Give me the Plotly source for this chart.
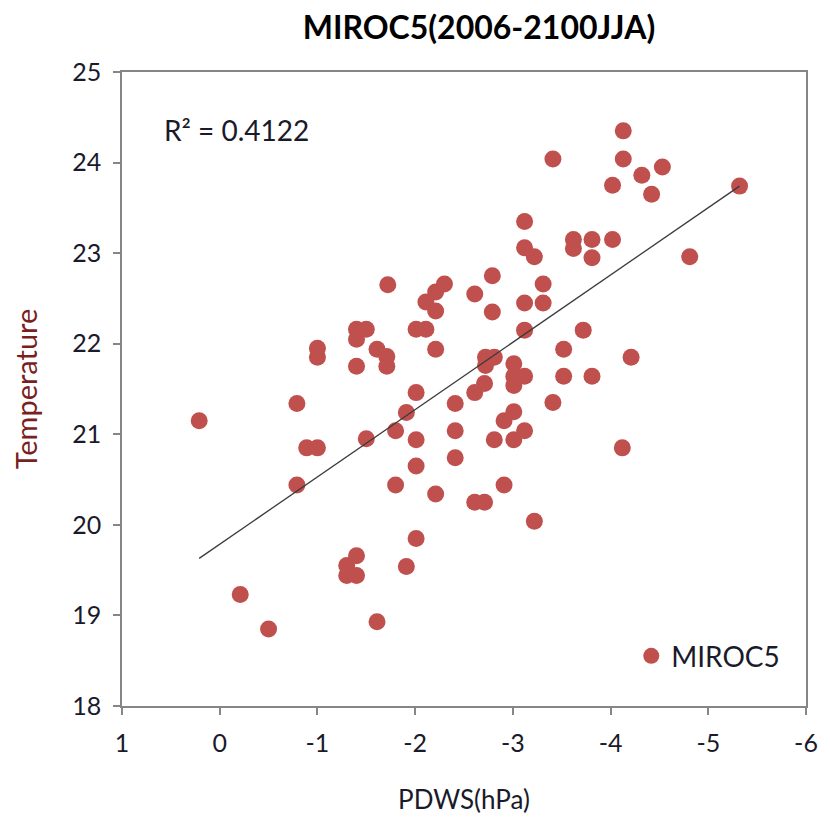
import plotly.graph_objects as go

# PDWS (hPa) values
pdws = [0.21, -0.21, -0.50, -0.79, -0.79, -0.89, -1.00, -1.00, -1.00, -1.30,
        -1.30, -1.40, -1.40, -1.40, -1.40, -1.50, -1.40, -1.50, -1.61, -1.71,
        -1.71, -1.72, -1.61, -1.80, -1.80, -1.91, -1.91, -2.01, -2.01, -2.01,
        -2.01, -2.01, -2.11, -2.11, -2.21, -2.21, -2.30, -2.21, -2.21, -2.41,
        -2.41, -2.41, -2.61, -2.79, -2.79, -2.72, -2.81, -2.72, -2.71, -2.61,
        -2.81, -2.91, -3.01, -3.01, -3.12, -2.91, -2.61, -2.71, -3.22, -3.01,
        -3.01, -3.12, -3.01, -3.12, -3.12, -3.31, -3.31, -3.12, -3.12, -3.22,
        -3.41, -3.52, -3.52, -3.81, -3.72, -3.62, -3.62, -3.81, -3.81, -4.02,
        -4.12, -4.21, -3.41, -4.13, -4.13, -4.32, -4.53, -4.02, -4.42, -5.32,
        -4.81]
# Temperature values
temperature = [21.15, 19.23, 18.85, 21.34, 20.44, 20.85, 20.85, 21.95, 21.85, 19.55,
               19.44, 19.44, 19.66, 21.75, 22.16, 22.16, 22.05, 20.95, 21.94, 21.86,
               21.75, 22.65, 18.93, 21.04, 20.44, 21.24, 19.54, 21.46, 20.94, 20.65,
               19.85, 22.16, 22.16, 22.46, 22.57, 22.36, 22.66, 21.94, 20.34, 21.34,
               21.04, 20.74, 22.55, 22.75, 22.35, 21.85, 21.85, 21.76, 21.56, 21.46,
               20.94, 21.15, 21.25, 20.94, 21.04, 20.44, 20.25, 20.25, 20.04, 21.78,
               21.64, 21.64, 21.54, 22.15, 22.45, 22.45, 22.66, 23.35, 23.06, 22.96,
               21.35, 21.94, 21.64, 21.64, 22.15, 23.15, 23.05, 23.15, 22.95, 23.15,
               20.85, 21.85, 24.04, 24.35, 24.04, 23.86, 23.95, 23.75, 23.65, 23.74,
               22.96]

# linear trend line endpoints (as drawn in the source chart)
trend_x = [0.21, -5.32]
trend_y = [19.63, 23.74]

series_name = "MIROC5"
title_text = "MIROC5(2006-2100JJA)"
r2_text = "R² = 0.4122"
x_ticks = [1, 0, -1, -2, -3, -4, -5, -6]
y_ticks = [18, 19, 20, 21, 22, 23, 24, 25]

FONT = "Lato"
RED = "#C0504D"
AXIS = "#868686"
TXT = "#1a1a2a"

W, H = 822, 814          # page body has an 8px margin
ML, MR, MT, MB = 114, 19, 64, 114
PW = W - ML - MR
PH = H - MT - MB

fig = go.Figure()
fig.add_trace(go.Scatter(
    x=pdws, y=temperature, mode="markers", name=series_name,
    marker=dict(size=17, color=RED, line=dict(width=0)),
))
fig.add_trace(go.Scatter(
    x=trend_x, y=trend_y, mode="lines", showlegend=False,
    line=dict(color="#3a3a3a", width=1.3), hoverinfo="skip",
))

fig.update_layout(
    width=W, height=H,
    margin=dict(l=ML, r=MR, t=MT, b=MB),
    paper_bgcolor="white", plot_bgcolor="white",
    font=dict(family=FONT, size=26, color=TXT),
    title=dict(text="<b>" + title_text + "</b>", x=(479 - 8) / W, xanchor="center",
               xref="container",
               y=1 - (28 - 8) / H, yanchor="middle", yref="container",
               font=dict(family=FONT, size=32, color="black")),
    showlegend=True,
    legend=dict(x=(635 - 122) / PW, y=(708 - 658) / PH, xanchor="left",
                yanchor="middle", bgcolor="rgba(0,0,0,0)",
                font=dict(family=FONT, size=28, color=TXT)),
    xaxis=dict(
        range=[1, -6], tickmode="array", tickvals=x_ticks,
        ticktext=[str(t) for t in x_ticks],
        showgrid=False, zeroline=False, showline=True, linecolor=AXIS,
        linewidth=1.5, mirror=True, ticks="outside", ticklen=7, tickcolor=AXIS,
        tickwidth=1.5, ticklabelstandoff=7,
        tickfont=dict(family=FONT, size=25, color=TXT),
        title=dict(text="PDWS(hPa)", standoff=35,
                   font=dict(family=FONT, size=26, color=TXT)),
    ),
    yaxis=dict(
        range=[18, 25], tickmode="array", tickvals=y_ticks,
        ticktext=[str(t) for t in y_ticks],
        showgrid=False, zeroline=False, showline=True, linecolor=AXIS,
        linewidth=1.5, mirror=True, ticks="outside", ticklen=7, tickcolor=AXIS,
        tickwidth=1.5, ticklabelstandoff=7,
        tickfont=dict(family=FONT, size=25, color=TXT),
        title=dict(text="Temperature", standoff=26,
                   font=dict(family=FONT, size=29, color="#7a1f1f")),
    ),
    annotations=[dict(
        text=r2_text, xref="paper", yref="paper",
        x=(162 - 122) / PW, y=(708 - 130) / PH, xanchor="left", yanchor="middle",
        showarrow=False, font=dict(family=FONT, size=28, color=TXT),
    )],
)

fig.write_html("out.html")
